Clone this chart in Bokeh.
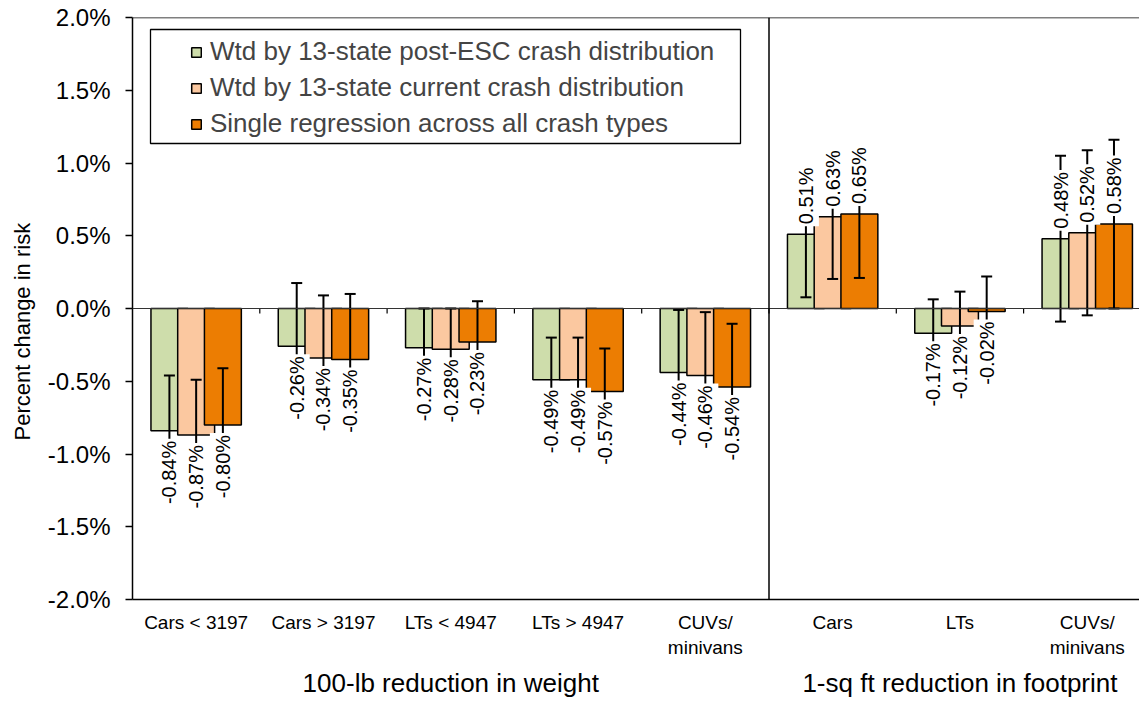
import numpy as np
from bokeh.plotting import figure
from bokeh.models import (Range1d, FixedTicker, PrintfTickFormatter, LinearAxis, Legend,
                          LegendItem, Span, Arrow, Title, BoxAnnotation)
from bokeh.core.properties import value
from bokeh.embed import file_html
from bokeh.resources import INLINE

# ---- data -------------------------------------------------------------
categories = ["Cars < 3197", "Cars > 3197", "LTs < 4947", "LTs > 4947", "CUVs/\nminivans",
              "Cars", "LTs", "CUVs/\nminivans"]
group_labels = ["100-lb reduction in weight", "1-sq ft reduction in footprint"]
group_sizes = [5, 3]

series_names = ["Wtd by 13-state post-ESC crash distribution",
                "Wtd by 13-state current crash distribution",
                "Single regression across all crash types"]

post_esc = [-0.84, -0.26, -0.27, -0.49, -0.44, 0.51, -0.17, 0.48]
current = [-0.87, -0.34, -0.28, -0.49, -0.46, 0.63, -0.12, 0.52]
single = [-0.80, -0.35, -0.23, -0.57, -0.54, 0.65, -0.02, 0.58]

# half-width of the error bars (percentage points)
post_esc_err = [0.38, 0.435, 0.27, 0.29, 0.43, 0.433, 0.233, 0.57]
current_err = [0.38, 0.43, 0.28, 0.29, 0.435, 0.427, 0.236, 0.567]
single_err = [0.39, 0.45, 0.28, 0.295, 0.435, 0.44, 0.24, 0.58]

y_ticks = [-2.0, -1.5, -1.0, -0.5, 0.0, 0.5, 1.0, 1.5, 2.0]

colors = ["#CEDDAB", "#FBC8A0", "#EC7D02"]
FONT = "Liberation Sans"

# ---- layout -----------------------------------------------------------
W, H = 1139, 705
LEFT, TOP, BOTTOM = 132, 17, 106
frame_h = H - TOP - BOTTOM
frame_w = W - LEFT
cat_px = 127.3
y_min, y_max = y_ticks[0], y_ticks[-1]
px_per_unit = frame_h / (y_max - y_min)
x_start = -0.5

p = figure(width=W, height=H, title=None,
           x_range=Range1d(x_start, x_start + frame_w / cat_px),
           y_range=Range1d(y_min, y_max),
           output_backend="svg", toolbar_location=None,
           min_border_left=LEFT, min_border_top=TOP, min_border_bottom=BOTTOM,
           min_border_right=0, outline_line_color=None)
p.grid.visible = False
p.background_fill_color = "white"
p.border_fill_color = "white"

# y axis
yax = p.yaxis[0]
yax.ticker = FixedTicker(ticks=y_ticks)
yax.formatter = PrintfTickFormatter(format="%.1f%%")
yax.major_tick_out = 7
yax.major_tick_in = 0
yax.minor_tick_out = 0
yax.minor_tick_in = 0
yax.axis_line_width = 1.5
yax.axis_line_color = "black"
yax.major_tick_line_color = "black"
yax.major_tick_line_width = 1.3
yax.major_label_text_font = FONT
yax.major_label_text_font_size = "24px"
yax.major_label_text_color = "black"
yax.major_label_standoff = 15

# y axis title, starting 159 px above the bottom of the plot area, near the left edge
p.add_layout(Title(text="Percent change in risk", align="left", offset=159,
                   vertical_align="top", standoff=16,
                   text_font=FONT, text_font_size="22px", text_font_style="normal",
                   text_color="black"), "left")

# x axis with category names
idx = list(range(len(categories)))
xax = p.xaxis[0]
xax.ticker = FixedTicker(ticks=idx)
xax.major_label_overrides = {i: c for i, c in zip(idx, categories)}
xax.major_tick_out = 0
xax.major_tick_in = 0
xax.minor_tick_out = 0
xax.minor_tick_in = 0
xax.axis_line_width = 1.5
xax.axis_line_color = "black"
xax.major_label_text_font = FONT
xax.major_label_text_font_size = "19px"
xax.major_label_text_color = "black"
xax.major_label_standoff = 12

# second row of x labels: the two groups
starts = np.cumsum([0] + group_sizes[:-1])
group_centers = [float(s + (n - 1) / 2) for s, n in zip(starts, group_sizes)]
gax = LinearAxis(ticker=FixedTicker(ticks=group_centers),
                 major_label_overrides={c: g for c, g in zip(group_centers, group_labels)},
                 axis_line_color=None, major_tick_line_color=None, minor_tick_line_color=None,
                 major_label_text_font=FONT, major_label_text_font_size="26px",
                 major_label_text_color="black", major_label_standoff=1)
p.add_layout(gax, "below")

# zero line, top border
p.add_layout(Span(location=0, dimension="width", line_color="#333333", line_width=1.2))
p.add_layout(Span(location=y_max, dimension="width", line_color="black", line_width=1.3))

# tick marks on the zero line between categories
bounds = [i + 0.5 for i in idx[:-1]]
p.ray(x=bounds, y=[0] * len(bounds), length=5, length_units="screen",
      angle=-np.pi / 2, line_color="black", line_width=1.2)

# divider between the two groups, running down through the label area
split = group_sizes[0] - 0.5
p.add_layout(Arrow(end=None, start=None, x_start=split, y_start=y_max, x_end=split,
                   y_end=y_min - BOTTOM / px_per_unit, line_color="black", line_width=1.5))

# ---- bars -------------------------------------------------------------
offsets = [-0.21, 0.0, 0.21]
bar_w = 0.29
all_vals = [post_esc, current, single]
all_errs = [post_esc_err, current_err, single_err]

renderers = []
for vals, off, col in zip(all_vals, offsets, colors):
    xs = [i + off for i in idx]
    r = p.vbar(x=xs, top=vals, bottom=0, width=bar_w, fill_color=col,
               line_color="black", line_width=1.5)
    renderers.append(r)

# error bars
for vals, errs, off in zip(all_vals, all_errs, offsets):
    xs = [i + off for i in idx]
    lo = [v - e for v, e in zip(vals, errs)]
    hi = [v + e for v, e in zip(vals, errs)]
    p.segment(x0=xs, y0=lo, x1=xs, y1=hi, line_color="black", line_width=2)
    p.scatter(x=xs + xs, y=lo + hi, marker="dash", size=11, line_color="black", line_width=2)

# value labels, set a few pixels beyond the end of each bar
gap = 8 / px_per_unit
for vals, off in zip(all_vals, offsets):
    pos = [(i + off, v) for i, v in zip(idx, vals) if v >= 0]
    neg = [(i + off, v) for i, v in zip(idx, vals) if v < 0]
    for pts, align, sign in ((pos, "left", 1), (neg, "right", -1)):
        if not pts:
            continue
        p.text(x=[a for a, _ in pts], y=[b + sign * gap for _, b in pts],
               text=[f"{b:.2f}%" for _, b in pts], angle=np.pi / 2,
               text_align=align, text_baseline="middle",
               text_font=value(FONT), text_font_size="20px", text_color="black",
               background_fill_color="white", padding=2)

# ---- legend -----------------------------------------------------------
legend = Legend(items=[LegendItem(label=n, renderers=[r]) for n, r in zip(series_names, renderers)],
                location=(58, 460), glyph_width=12, glyph_height=12, label_standoff=8,
                label_text_font=FONT, label_text_font_size="26px", label_height=26,
                spacing=5, padding=0, margin=0, border_line_color=None,
                background_fill_alpha=0)
p.add_layout(legend)
p.add_layout(BoxAnnotation(left=18, right=608, bottom=456, top=570,
                           left_units="screen", right_units="screen",
                           bottom_units="screen", top_units="screen",
                           fill_alpha=0, line_color="black", line_alpha=1, line_width=1.3))

open("out.html", "w").write(file_html(p, INLINE))
